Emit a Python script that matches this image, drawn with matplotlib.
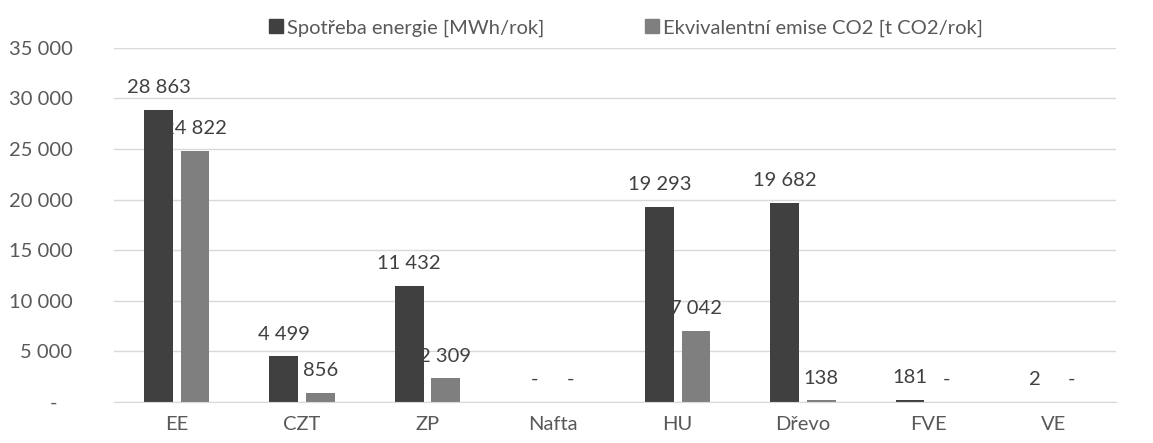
import matplotlib
matplotlib.use("Agg")
import matplotlib.pyplot as plt
from matplotlib.patches import Patch
import numpy as np

categories = ["EE", "CZT", "ZP", "Nafta", "HU", "Dřevo", "FVE", "VE"]
energy = [28863, 4499, 11432, 0, 19293, 19682, 181, 2]
emissions = [24822, 856, 2309, 0, 7042, 138, 0, 0]
series_names = ["Spotřeba energie [MWh/rok]", "Ekvivalentní emise CO2 [t CO2/rok]"]
yticks = [0, 5000, 10000, 15000, 20000, 25000, 30000, 35000]

DARK = "#404040"
GRAY = "#7f7f7f"
TEXT = "#595959"
FS = 14.5

plt.rcParams["font.family"] = ["Lato", "DejaVu Sans"]


def fmt(v):
    if v == 0:
        return "-"
    return f"{v:,}".replace(",", " ")


fig = plt.figure(figsize=(11.53, 4.43), dpi=100)
ax = fig.add_axes([0.099, 0.093, 0.869, 0.799])

x = np.arange(len(categories))
w = 0.23
off = 0.145
for vals, col, dx in ((energy, DARK, -off), (emissions, GRAY, off)):
    ax.bar(x + dx, vals, width=w, color=col, zorder=2)
    for xi, v in zip(x + dx, vals):
        ax.annotate(fmt(v), (xi, v), xytext=(0, 16), textcoords="offset points",
                    ha="center", va="center", fontsize=FS, color=DARK, zorder=3)

ax.set_xlim(-0.5, len(categories) - 0.5)
ax.set_ylim(0, 35000)
ax.set_yticks(yticks)
ax.set_yticklabels([fmt(v) if v else "-   " for v in yticks])
ax.set_xticks(x)
ax.set_xticklabels(categories)
ax.tick_params(axis="both", length=0, labelsize=FS, labelcolor=TEXT)
ax.tick_params(axis="y", pad=30)
ax.tick_params(axis="x", pad=10)
ax.grid(axis="y", color="#d9d9d9", linewidth=1, zorder=0)
for s in ("top", "right", "left"):
    ax.spines[s].set_visible(False)
ax.spines["bottom"].set_color("#d9d9d9")

handles = [Patch(color=DARK), Patch(color=GRAY)]
fig.legend(handles, series_names, loc="center", bbox_to_anchor=(0.543, 0.937), ncol=2,
           frameon=False, fontsize=FS, labelcolor=TEXT, handlelength=0.7,
           handleheight=0.7, handletextpad=0.2, columnspacing=5)

fig.savefig("out.png", dpi=100)
